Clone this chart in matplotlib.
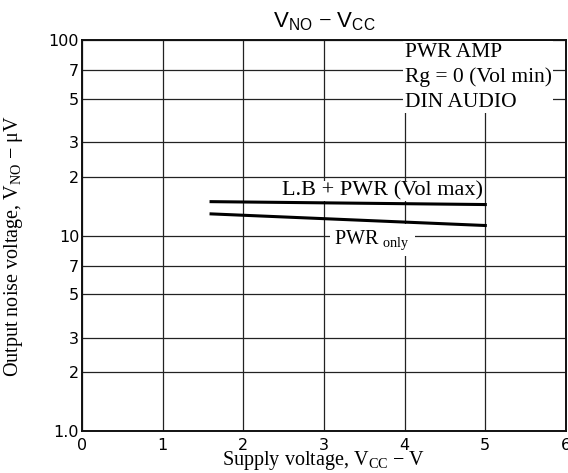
import matplotlib.pyplot as plt
from matplotlib.ticker import FixedLocator, FixedFormatter, NullLocator

plt.rcParams["mathtext.fontset"] = "custom"
plt.rcParams["mathtext.rm"] = "Liberation Serif"
plt.rcParams["mathtext.sf"] = "Liberation Sans"

# supply voltage (V) and output noise (uV)
vcc = [1.6, 5.0]
lb_pwr = [14.9, 14.4]
pwr_only = [12.9, 11.25]

y_ticks = [1, 2, 3, 5, 7, 10, 20, 30, 50, 70, 100]
y_labels = ["1.0", "2", "3", "5", "7", "10", "2", "3", "5", "7", "100"]
x_ticks = [0, 1, 2, 3, 4, 5, 6]

fig = plt.figure(figsize=(5.68, 4.73), dpi=100)
ax = fig.add_axes([0.1444, 0.0888, 0.852, 0.8266])

ax.set_yscale("log")
ax.set_xlim(0, 6)
ax.set_ylim(1, 100)
ax.yaxis.set_major_locator(FixedLocator(y_ticks))
ax.yaxis.set_major_formatter(FixedFormatter(y_labels))
ax.yaxis.set_minor_locator(NullLocator())
ax.set_xticks(x_ticks)
ax.tick_params(length=0, labelsize=11.5)
ax.tick_params(axis="x", pad=5)
ax.tick_params(axis="y", pad=2)

ax.grid(True, color="#222222", linewidth=0.9)
for s in ax.spines.values():
    s.set_linewidth(1.4)
    s.set_color("#111111")

ax.plot(vcc, lb_pwr, color="black", linewidth=2.2, zorder=3)
ax.plot(vcc, pwr_only, color="black", linewidth=2.2, zorder=3)

serif = "Liberation Serif"
ax.text(4.0, 97, "PWR AMP\nRg = 0 (Vol min)\nDIN AUDIO", family=serif,
        fontsize=15.5, va="top", ha="left", linespacing=1.4,
        bbox=dict(facecolor="white", edgecolor="none", pad=1), zorder=2)
ax.text(3.72, 16.9, "L.B + PWR (Vol max)", family=serif, fontsize=16,
        ha="center", va="center",
        bbox=dict(facecolor="white", edgecolor="none", pad=0.5), zorder=2)
ax.text(3.6, 9.5, "PWR $_{\\rm only}$", family=serif, fontsize=14.5,
        ha="center", va="center",
        bbox=dict(facecolor="white", edgecolor="none", pad=3), zorder=2)

ax.set_title("V$_{\\mathsf{NO}}$ $-$ V$_{\\mathsf{CC}}$", family="Liberation Sans", fontsize=16, pad=9)
ax.set_xlabel("Supply voltage, V$_{\\rm CC}$ $-$ V", family=serif, fontsize=14.5, labelpad=-3)
ax.set_ylabel("Output noise voltage, V$_{\\rm NO}$ $-$ \u03bcV", family=serif, fontsize=14.5)
ax.yaxis.set_label_coords(-0.118, 0.473)

plt.savefig("out.png", dpi=100)
